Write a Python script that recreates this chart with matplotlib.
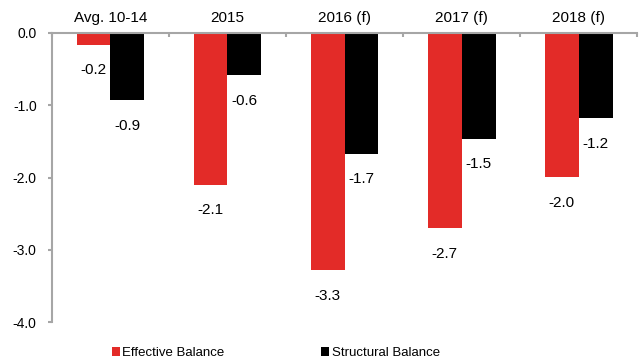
import matplotlib.pyplot as plt
import numpy as np

plt.rcParams['font.family'] = ['Liberation Sans', 'DejaVu Sans']

categories = ['Avg. 10-14', '2015', '2016 (f)', '2017 (f)', '2018 (f)']
effective = [-0.16, -2.10, -3.28, -2.70, -1.99]
structural = [-0.93, -0.58, -1.67, -1.46, -1.18]

red = '#E32B28'
grey = '#A6A6A6'

fig = plt.figure(figsize=(6.41, 3.62), dpi=100)
ax = fig.add_axes([0.081, 0.110, 0.913, 0.799])

x = np.arange(len(categories))
w = 0.29
b1 = ax.bar(x - w / 2, effective, w, color=red, label='Effective Balance')
b2 = ax.bar(x + w / 2, structural, w, color='black', label='Structural Balance')

for bars, vals in [(b1, effective), (b2, structural)]:
    for rect, v in zip(bars, vals):
        ax.annotate(f'{v:.1f}', (rect.get_x() + rect.get_width() / 2, v),
                    xytext=(0, -18.5), textcoords='offset points',
                    ha='center', va='center', fontsize=11)

ax.set_xlim(-0.5, len(categories) - 0.5)
ax.set_ylim(-4.0, 0.0)
ax.set_yticks([0, -1, -2, -3, -4])
ax.set_yticklabels([f'{t:.1f}' for t in [0, -1, -2, -3, -4]])

# x axis sits on top at zero; ticks on boundaries, names in between
ax.xaxis.tick_top()
ax.set_xticks(np.arange(len(categories) + 1) - 0.5)
ax.set_xticklabels([])
ax.set_xticks(x, minor=True)
ax.set_xticklabels(categories, minor=True)
ax.tick_params(axis='x', which='major', direction='in', length=3, color=grey, width=1.5)
ax.tick_params(axis='x', which='minor', length=0, pad=6, labelsize=11)
ax.tick_params(axis='y', direction='out', length=3, color=grey, width=1.5,
               pad=8, labelsize=10)

for s in ['right', 'bottom']:
    ax.spines[s].set_visible(False)
for s in ['top', 'left']:
    ax.spines[s].set_color(grey)
    ax.spines[s].set_linewidth(1.5)

fig.legend(loc='lower left', bbox_to_anchor=(0.156, -0.025), ncol=2, frameon=False,
           fontsize=9.5, handlelength=0.6, handleheight=0.6, handletextpad=0.2,
           columnspacing=7.3)

plt.savefig('out.png', dpi=100)
